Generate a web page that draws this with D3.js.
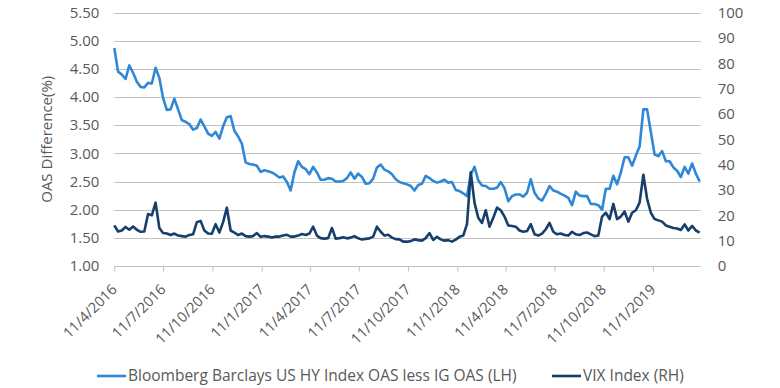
<!DOCTYPE html>
<html>
<head>
<meta charset="utf-8">
<script src="https://cdn.jsdelivr.net/npm/d3@7"></script>
<style>
  html, body { margin: 0; padding: 0; background: #ffffff; }
  svg { display: block; }
  text { font-family: "Open Sans", "Noto Sans", sans-serif; fill: #595959; }
</style>
</head>
<body>
<svg id="chart" width="780" height="388"></svg>
<script>
// ---- Data (weekly readings, starting 11 Apr 2016) ----
const startDate = "2016-04-11";
const axisEndDate = "2019-04-10";
const tickDates = ["2016-04-11","2016-07-11","2016-10-11","2017-01-11","2017-04-11","2017-07-11",
                   "2017-10-11","2018-01-11","2018-04-11","2018-07-11","2018-10-11","2019-01-11"];
const leftTicks = [1.00,1.50,2.00,2.50,3.00,3.50,4.00,4.50,5.00,5.50];
const rightTicks = [0,10,20,30,40,50,60,70,80,90,100];
const seriesNames = ["Bloomberg Barclays US HY Index OAS less IG OAS (LH)", "VIX Index (RH)"];

const hyOas = [
  4.87,4.45,4.40,4.32,4.56,4.43,4.27,4.18,4.17,4.25,4.24,4.52,4.34,3.98,3.77,3.78,3.97,3.78,3.59,3.56,
  3.52,3.42,3.45,3.60,3.48,3.35,3.31,3.38,3.26,3.48,3.64,3.66,3.40,3.30,3.17,2.84,2.81,2.80,2.78,2.67,
  2.70,2.68,2.66,2.62,2.57,2.59,2.49,2.34,2.66,2.86,2.76,2.72,2.63,2.76,2.66,2.53,2.53,2.56,2.55,2.50,
  2.50,2.51,2.56,2.66,2.55,2.64,2.58,2.46,2.47,2.55,2.75,2.80,2.71,2.68,2.63,2.54,2.49,2.47,2.45,2.42,
  2.34,2.44,2.46,2.60,2.56,2.51,2.48,2.50,2.53,2.48,2.49,2.35,2.33,2.29,2.24,2.62,2.76,2.52,2.43,2.42,
  2.37,2.37,2.39,2.49,2.38,2.15,2.24,2.27,2.27,2.23,2.30,2.54,2.30,2.20,2.16,2.28,2.42,2.34,2.32,2.28,
  2.25,2.21,2.08,2.32,2.25,2.24,2.24,2.10,2.10,2.08,2.00,2.37,2.37,2.60,2.45,2.66,2.93,2.93,2.78,2.96,
  3.12,3.78,3.78,3.38,2.98,2.95,3.04,2.86,2.86,2.75,2.69,2.58,2.76,2.64,2.82,2.64,2.50
];
const vix = [
  16.0,13.6,14.0,15.4,14.3,15.6,14.3,13.5,13.6,20.5,20.0,25.0,15.0,13.0,12.8,12.2,12.8,12.0,11.8,11.6,
  12.2,12.5,17.3,17.8,14.0,12.8,12.7,16.5,13.2,17.3,23.0,14.0,13.2,12.2,12.8,11.8,11.6,11.8,13.0,11.5,
  11.8,11.6,11.2,11.6,11.6,12.0,12.3,11.6,11.6,12.0,12.6,12.2,12.8,15.5,12.0,11.0,10.8,11.0,15.0,10.8,
  11.0,11.3,10.9,11.2,11.8,10.9,10.5,10.7,10.9,11.6,15.5,13.5,12.0,12.3,11.2,10.6,10.5,9.6,9.6,9.8,
  10.5,10.2,10.0,11.0,13.0,10.3,11.5,10.5,10.0,10.2,9.6,10.4,11.5,12.0,16.5,37.0,25.0,19.0,17.0,22.0,
  15.5,19.0,23.0,22.0,19.5,16.0,15.8,15.5,14.0,13.5,13.8,16.5,12.5,12.0,12.8,14.5,17.0,13.5,12.5,12.8,
  12.2,12.0,13.5,12.5,12.2,13.0,13.2,12.5,11.8,12.0,19.5,21.0,18.5,24.5,18.5,19.5,21.5,17.5,21.0,22.0,
  25.0,36.0,26.5,21.0,18.5,18.0,17.5,16.0,15.5,15.0,14.8,14.2,16.4,14.0,15.8,14.0,13.2
];

// ---- Layout ----
const parse = d3.timeParse("%Y-%m-%d");
const fmtTick = d => `${d.getDate()}/${d.getMonth() + 1}/${d.getFullYear()}`;
const x0 = 114.3, x1 = 700.7, yTop = 12.5, yBot = 266;
const colorHY = "#2e87d7", colorVIX = "#173f6b";

const start = parse(startDate);
const dates = hyOas.map((_, i) => d3.timeDay.offset(start, 7 * i));

const x = d3.scaleTime().domain([start, parse(axisEndDate)]).range([x0, x1]);
const yL = d3.scaleLinear().domain([1, 5.5]).range([yBot, yTop]);
const yR = d3.scaleLinear().domain([0, 100]).range([yBot, yTop]);

const svg = d3.select("#chart");

// gridlines
svg.append("g").selectAll("line").data(leftTicks.filter(v => v > 1)).join("line")
  .attr("x1", x0).attr("x2", x1)
  .attr("y1", d => Math.round(yL(d)) + 0.5).attr("y2", d => Math.round(yL(d)) + 0.5)
  .attr("stroke", "#c2c2c2").attr("stroke-width", 1);

// bottom axis
const xAxis = d3.axisBottom(x).tickValues(tickDates.map(parse)).tickFormat(fmtTick)
  .tickSize(5).tickSizeOuter(0);
const gx = svg.append("g").attr("transform", `translate(0,${Math.round(yBot) + 0.5})`).call(xAxis);
gx.select(".domain").attr("stroke", "#c2c2c2").attr("d", `M${x0},0H${x1}`);
gx.selectAll(".tick line").attr("stroke", "#c2c2c2");
gx.selectAll(".tick text")
  .attr("font-size", 14.5).attr("fill", "#595959")
  .attr("text-anchor", "end").attr("dy", 0).attr("y", 0).attr("x", 0)
  .attr("transform", "translate(3,24) rotate(-45)");

// left axis labels
const gl = svg.append("g").attr("transform", `translate(${x0},0)`)
  .call(d3.axisLeft(yL).tickValues(leftTicks).tickFormat(d3.format(".2f")).tickSize(0).tickPadding(15));
gl.select(".domain").remove();
gl.selectAll("text").attr("font-size", 15).attr("fill", "#595959").attr("font-family", "Open Sans, sans-serif");

// right axis labels
const gr = svg.append("g").attr("transform", `translate(${x1},0)`)
  .call(d3.axisRight(yR).tickValues(rightTicks).tickFormat(d3.format("d")).tickSize(0).tickPadding(17));
gr.select(".domain").remove();
gr.selectAll("text").attr("font-size", 15).attr("fill", "#595959").attr("font-family", "Open Sans, sans-serif");

// y title
svg.append("text")
  .attr("transform", `translate(52,${(yTop + yBot) / 2}) rotate(-90)`)
  .attr("text-anchor", "middle")
  .attr("font-size", 15)
  .text("OAS Difference(%)");

// lines
const lineHY = d3.line().x((d, i) => x(dates[i])).y(d => yL(d));
const lineVIX = d3.line().x((d, i) => x(dates[i])).y(d => yR(d));
svg.append("path").datum(hyOas).attr("d", lineHY)
  .attr("fill", "none").attr("stroke", colorHY).attr("stroke-width", 2.6).attr("stroke-linejoin", "round");
svg.append("path").datum(vix).attr("d", lineVIX)
  .attr("fill", "none").attr("stroke", colorVIX).attr("stroke-width", 2.6).attr("stroke-linejoin", "round");

// legend
const legend = svg.append("g").attr("font-size", 15.5);
const leg = [
  {name: seriesNames[0], color: colorHY, lx: 97},
  {name: seriesNames[1], color: colorVIX, lx: 552}
];
leg.forEach(d => {
  legend.append("line").attr("x1", d.lx).attr("x2", d.lx + 29).attr("y1", 376).attr("y2", 376)
    .attr("stroke", d.color).attr("stroke-width", 2.6);
  legend.append("text").attr("x", d.lx + 31).attr("y", 376).attr("dy", "0.35em").text(d.name);
});
</script>
</body>
</html>
